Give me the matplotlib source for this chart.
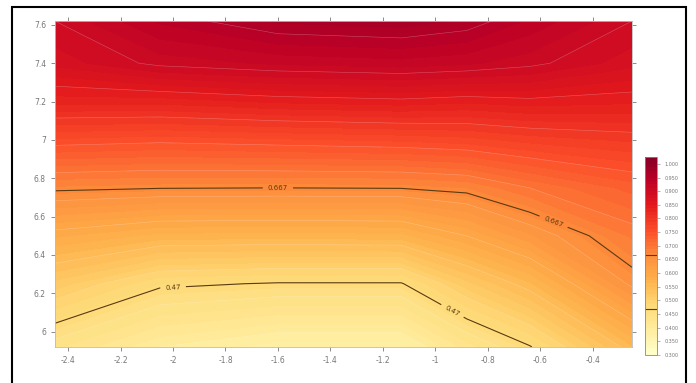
import numpy as np
import matplotlib
matplotlib.use('Agg')
import matplotlib.pyplot as plt
from matplotlib.patches import Rectangle

# grid nodes
x = [-2.45, -2.05, -1.6, -1.13, -0.88, -0.64, -0.25]
y = [5.92, 6.25, 6.5, 6.75, 7.0, 7.2, 7.4, 7.62]

# values, one row per y node (bottom to top)
z = [
    [0.440, 0.400, 0.380, 0.380, 0.430, 0.468, 0.560],
    [0.520, 0.475, 0.468, 0.468, 0.520, 0.560, 0.655],
    [0.590, 0.570, 0.568, 0.570, 0.600, 0.635, 0.690],
    [0.672, 0.668, 0.667, 0.668, 0.675, 0.700, 0.730],
    [0.760, 0.755, 0.760, 0.765, 0.770, 0.780, 0.790],
    [0.830, 0.830, 0.840, 0.845, 0.840, 0.845, 0.840],
    [0.880, 0.905, 0.915, 0.920, 0.915, 0.905, 0.880],
    [0.900, 0.940, 0.965, 0.970, 0.960, 0.935, 0.900],
]

line_levels = [0.47, 0.667]
xticks = [-2.4, -2.2, -2, -1.8, -1.6, -1.4, -1.2, -1, -0.8, -0.6, -0.4]
yticks = [6, 6.2, 6.4, 6.6, 6.8, 7, 7.2, 7.4, 7.6]

X, Y = np.meshgrid(x, y)
Z = np.array(z)

fig = plt.figure(figsize=(6.96, 3.83), dpi=100)
ax = fig.add_axes([0.079, 0.094, 0.829, 0.851])

levels = np.arange(0.30, 1.031, 0.0125)
cf = ax.contourf(X, Y, Z, levels=levels, cmap='YlOrRd', vmin=0.30, vmax=1.03)
ax.contour(X, Y, Z, levels=levels[::4], colors='white', linewidths=0.4, alpha=0.3)
cl = ax.contour(X, Y, Z, levels=line_levels, colors='#5a3a10', linewidths=0.8)
ax.clabel(cl, fmt={0.47: '0.47', 0.667: '0.667'}, fontsize=5, inline=True,
          manual=[(-2.0, 6.24), (-0.95, 6.07), (-1.6, 6.75), (-0.55, 6.57)])

ax.set_xlim(-2.45, -0.25)
ax.set_ylim(5.92, 7.62)
ax.set_xticks(xticks)
ax.set_xticklabels([str(v) for v in xticks])
ax.set_yticks(yticks)
ax.set_yticklabels([str(v) for v in yticks])
ax.tick_params(direction='out', length=3, width=0.6, labelsize=5.5,
               colors='#777777', top=True, right=True)
for s in ax.spines.values():
    s.set_color('#bbbbbb')
    s.set_linewidth(0.6)

cax = fig.add_axes([0.927, 0.073, 0.017, 0.517])
cb = fig.colorbar(cf, cax=cax)
cb.add_lines(cl)
cbticks = levels[::4]
cb.set_ticks(cbticks)
cb.set_ticklabels(['%.3f' % v for v in cbticks])
cb.ax.tick_params(labelsize=3.5, length=2, width=0.4, colors='#777777')
cb.outline.set_edgecolor('#888888')
cb.outline.set_linewidth(0.6)

fig.patches.append(Rectangle((0.017, -0.01), 0.9685, 0.992, transform=fig.transFigure,
                             fill=False, edgecolor='black', linewidth=1.5))

fig.savefig('out.png', dpi=100)
